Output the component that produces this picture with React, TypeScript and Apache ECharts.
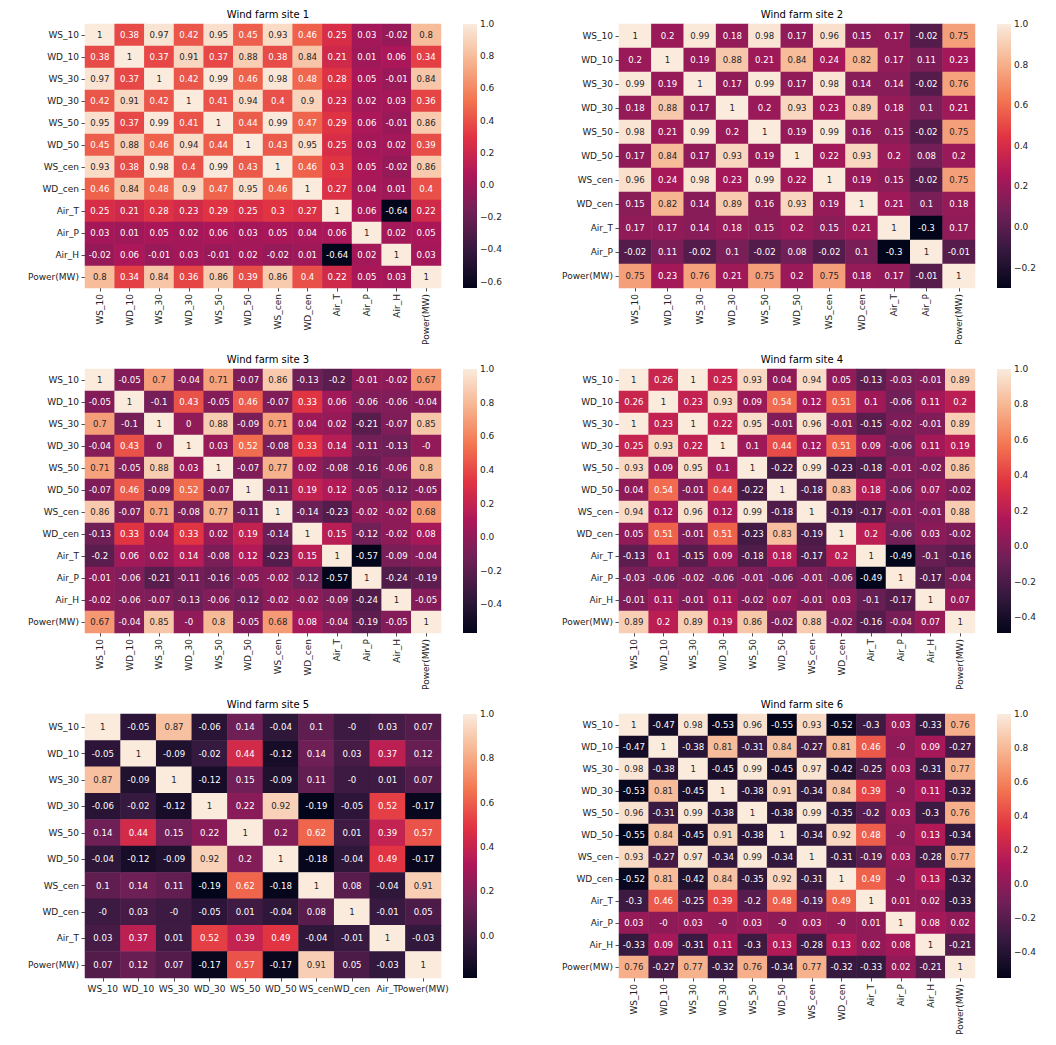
import React, { useEffect, useRef } from 'react';
import * as echarts from 'echarts';

const labels12 = ['WS_10', 'WD_10', 'WS_30', 'WD_30', 'WS_50', 'WD_50', 'WS_cen', 'WD_cen', 'Air_T', 'Air_P', 'Air_H', 'Power(MW)'];
const labels11 = ['WS_10', 'WD_10', 'WS_30', 'WD_30', 'WS_50', 'WD_50', 'WS_cen', 'WD_cen', 'Air_T', 'Air_P', 'Power(MW)'];
const labels10 = ['WS_10', 'WD_10', 'WS_30', 'WD_30', 'WS_50', 'WD_50', 'WS_cen', 'WD_cen', 'Air_T', 'Power(MW)'];

const titles = ['Wind farm site 1', 'Wind farm site 2', 'Wind farm site 3', 'Wind farm site 4', 'Wind farm site 5', 'Wind farm site 6'];

const site1 = [
  [1, 0.38, 0.97, 0.42, 0.95, 0.45, 0.93, 0.46, 0.25, 0.03, -0.02, 0.8],
  [0.38, 1, 0.37, 0.91, 0.37, 0.88, 0.38, 0.84, 0.21, 0.01, 0.06, 0.34],
  [0.97, 0.37, 1, 0.42, 0.99, 0.46, 0.98, 0.48, 0.28, 0.05, -0.01, 0.84],
  [0.42, 0.91, 0.42, 1, 0.41, 0.94, 0.4, 0.9, 0.23, 0.02, 0.03, 0.36],
  [0.95, 0.37, 0.99, 0.41, 1, 0.44, 0.99, 0.47, 0.29, 0.06, -0.01, 0.86],
  [0.45, 0.88, 0.46, 0.94, 0.44, 1, 0.43, 0.95, 0.25, 0.03, 0.02, 0.39],
  [0.93, 0.38, 0.98, 0.4, 0.99, 0.43, 1, 0.46, 0.3, 0.05, -0.02, 0.86],
  [0.46, 0.84, 0.48, 0.9, 0.47, 0.95, 0.46, 1, 0.27, 0.04, 0.01, 0.4],
  [0.25, 0.21, 0.28, 0.23, 0.29, 0.25, 0.3, 0.27, 1, 0.06, -0.64, 0.22],
  [0.03, 0.01, 0.05, 0.02, 0.06, 0.03, 0.05, 0.04, 0.06, 1, 0.02, 0.05],
  [-0.02, 0.06, -0.01, 0.03, -0.01, 0.02, -0.02, 0.01, -0.64, 0.02, 1, 0.03],
  [0.8, 0.34, 0.84, 0.36, 0.86, 0.39, 0.86, 0.4, 0.22, 0.05, 0.03, 1],
];

const site2 = [
  [1, 0.2, 0.99, 0.18, 0.98, 0.17, 0.96, 0.15, 0.17, -0.02, 0.75],
  [0.2, 1, 0.19, 0.88, 0.21, 0.84, 0.24, 0.82, 0.17, 0.11, 0.23],
  [0.99, 0.19, 1, 0.17, 0.99, 0.17, 0.98, 0.14, 0.14, -0.02, 0.76],
  [0.18, 0.88, 0.17, 1, 0.2, 0.93, 0.23, 0.89, 0.18, 0.1, 0.21],
  [0.98, 0.21, 0.99, 0.2, 1, 0.19, 0.99, 0.16, 0.15, -0.02, 0.75],
  [0.17, 0.84, 0.17, 0.93, 0.19, 1, 0.22, 0.93, 0.2, 0.08, 0.2],
  [0.96, 0.24, 0.98, 0.23, 0.99, 0.22, 1, 0.19, 0.15, -0.02, 0.75],
  [0.15, 0.82, 0.14, 0.89, 0.16, 0.93, 0.19, 1, 0.21, 0.1, 0.18],
  [0.17, 0.17, 0.14, 0.18, 0.15, 0.2, 0.15, 0.21, 1, -0.3, 0.17],
  [-0.02, 0.11, -0.02, 0.1, -0.02, 0.08, -0.02, 0.1, -0.3, 1, -0.01],
  [0.75, 0.23, 0.76, 0.21, 0.75, 0.2, 0.75, 0.18, 0.17, -0.01, 1],
];

const site3 = [
  [1, -0.05, 0.7, -0.04, 0.71, -0.07, 0.86, -0.13, -0.2, -0.01, -0.02, 0.67],
  [-0.05, 1, -0.1, 0.43, -0.05, 0.46, -0.07, 0.33, 0.06, -0.06, -0.06, -0.04],
  [0.7, -0.1, 1, 0, 0.88, -0.09, 0.71, 0.04, 0.02, -0.21, -0.07, 0.85],
  [-0.04, 0.43, 0, 1, 0.03, 0.52, -0.08, 0.33, 0.14, -0.11, -0.13, -0],
  [0.71, -0.05, 0.88, 0.03, 1, -0.07, 0.77, 0.02, -0.08, -0.16, -0.06, 0.8],
  [-0.07, 0.46, -0.09, 0.52, -0.07, 1, -0.11, 0.19, 0.12, -0.05, -0.12, -0.05],
  [0.86, -0.07, 0.71, -0.08, 0.77, -0.11, 1, -0.14, -0.23, -0.02, -0.02, 0.68],
  [-0.13, 0.33, 0.04, 0.33, 0.02, 0.19, -0.14, 1, 0.15, -0.12, -0.02, 0.08],
  [-0.2, 0.06, 0.02, 0.14, -0.08, 0.12, -0.23, 0.15, 1, -0.57, -0.09, -0.04],
  [-0.01, -0.06, -0.21, -0.11, -0.16, -0.05, -0.02, -0.12, -0.57, 1, -0.24, -0.19],
  [-0.02, -0.06, -0.07, -0.13, -0.06, -0.12, -0.02, -0.02, -0.09, -0.24, 1, -0.05],
  [0.67, -0.04, 0.85, -0, 0.8, -0.05, 0.68, 0.08, -0.04, -0.19, -0.05, 1],
];

const site4 = [
  [1, 0.26, 1, 0.25, 0.93, 0.04, 0.94, 0.05, -0.13, -0.03, -0.01, 0.89],
  [0.26, 1, 0.23, 0.93, 0.09, 0.54, 0.12, 0.51, 0.1, -0.06, 0.11, 0.2],
  [1, 0.23, 1, 0.22, 0.95, -0.01, 0.96, -0.01, -0.15, -0.02, -0.01, 0.89],
  [0.25, 0.93, 0.22, 1, 0.1, 0.44, 0.12, 0.51, 0.09, -0.06, 0.11, 0.19],
  [0.93, 0.09, 0.95, 0.1, 1, -0.22, 0.99, -0.23, -0.18, -0.01, -0.02, 0.86],
  [0.04, 0.54, -0.01, 0.44, -0.22, 1, -0.18, 0.83, 0.18, -0.06, 0.07, -0.02],
  [0.94, 0.12, 0.96, 0.12, 0.99, -0.18, 1, -0.19, -0.17, -0.01, -0.01, 0.88],
  [0.05, 0.51, -0.01, 0.51, -0.23, 0.83, -0.19, 1, 0.2, -0.06, 0.03, -0.02],
  [-0.13, 0.1, -0.15, 0.09, -0.18, 0.18, -0.17, 0.2, 1, -0.49, -0.1, -0.16],
  [-0.03, -0.06, -0.02, -0.06, -0.01, -0.06, -0.01, -0.06, -0.49, 1, -0.17, -0.04],
  [-0.01, 0.11, -0.01, 0.11, -0.02, 0.07, -0.01, 0.03, -0.1, -0.17, 1, 0.07],
  [0.89, 0.2, 0.89, 0.19, 0.86, -0.02, 0.88, -0.02, -0.16, -0.04, 0.07, 1],
];

const site5 = [
  [1, -0.05, 0.87, -0.06, 0.14, -0.04, 0.1, -0, 0.03, 0.07],
  [-0.05, 1, -0.09, -0.02, 0.44, -0.12, 0.14, 0.03, 0.37, 0.12],
  [0.87, -0.09, 1, -0.12, 0.15, -0.09, 0.11, -0, 0.01, 0.07],
  [-0.06, -0.02, -0.12, 1, 0.22, 0.92, -0.19, -0.05, 0.52, -0.17],
  [0.14, 0.44, 0.15, 0.22, 1, 0.2, 0.62, 0.01, 0.39, 0.57],
  [-0.04, -0.12, -0.09, 0.92, 0.2, 1, -0.18, -0.04, 0.49, -0.17],
  [0.1, 0.14, 0.11, -0.19, 0.62, -0.18, 1, 0.08, -0.04, 0.91],
  [-0, 0.03, -0, -0.05, 0.01, -0.04, 0.08, 1, -0.01, 0.05],
  [0.03, 0.37, 0.01, 0.52, 0.39, 0.49, -0.04, -0.01, 1, -0.03],
  [0.07, 0.12, 0.07, -0.17, 0.57, -0.17, 0.91, 0.05, -0.03, 1],
];

const site6 = [
  [1, -0.47, 0.98, -0.53, 0.96, -0.55, 0.93, -0.52, -0.3, 0.03, -0.33, 0.76],
  [-0.47, 1, -0.38, 0.81, -0.31, 0.84, -0.27, 0.81, 0.46, -0, 0.09, -0.27],
  [0.98, -0.38, 1, -0.45, 0.99, -0.45, 0.97, -0.42, -0.25, 0.03, -0.31, 0.77],
  [-0.53, 0.81, -0.45, 1, -0.38, 0.91, -0.34, 0.84, 0.39, -0, 0.11, -0.32],
  [0.96, -0.31, 0.99, -0.38, 1, -0.38, 0.99, -0.35, -0.2, 0.03, -0.3, 0.76],
  [-0.55, 0.84, -0.45, 0.91, -0.38, 1, -0.34, 0.92, 0.48, -0, 0.13, -0.34],
  [0.93, -0.27, 0.97, -0.34, 0.99, -0.34, 1, -0.31, -0.19, 0.03, -0.28, 0.77],
  [-0.52, 0.81, -0.42, 0.84, -0.35, 0.92, -0.31, 1, 0.49, -0, 0.13, -0.32],
  [-0.3, 0.46, -0.25, 0.39, -0.2, 0.48, -0.19, 0.49, 1, 0.01, 0.02, -0.33],
  [0.03, -0, 0.03, -0, 0.03, -0, 0.03, -0, 0.01, 1, 0.08, 0.02],
  [-0.33, 0.09, -0.31, 0.11, -0.3, 0.13, -0.28, 0.13, 0.02, 0.08, 1, -0.21],
  [0.76, -0.27, 0.77, -0.32, 0.76, -0.34, 0.77, -0.32, -0.33, 0.02, -0.21, 1],
];

const cbTicks1 = [-0.6, -0.4, -0.2, 0, 0.2, 0.4, 0.6, 0.8, 1.0];
const cbTicks2 = [-0.2, 0, 0.2, 0.4, 0.6, 0.8, 1.0];
const cbTicks3 = [-0.4, -0.2, 0, 0.2, 0.4, 0.6, 0.8, 1.0];
const cbTicks4 = [-0.4, -0.2, 0, 0.2, 0.4, 0.6, 0.8, 1.0];
const cbTicks5 = [0, 0.2, 0.4, 0.6, 0.8, 1.0];
const cbTicks6 = [-0.4, -0.2, 0, 0.2, 0.4, 0.6, 0.8, 1.0];

const rocketColors = ['#03051a', '#35193e', '#701f57', '#ad1759', '#e13342', '#f37651', '#f6b48f', '#faebdd'];

const panelsData = [
  { labels: labels12, m: site1, ticks: cbTicks1 },
  { labels: labels11, m: site2, ticks: cbTicks2 },
  { labels: labels12, m: site3, ticks: cbTicks3 },
  { labels: labels12, m: site4, ticks: cbTicks4 },
  { labels: labels10, m: site5, ticks: cbTicks5 },
  { labels: labels12, m: site6, ticks: cbTicks6 },
];

const layout = [
  { left: 85, top: 24 },
  { left: 619, top: 24 },
  { left: 85, top: 369 },
  { left: 619, top: 369 },
  { left: 85, top: 714 },
  { left: 619, top: 714 },
];
const GW = 356;
const GH = 264;
const FONT = 'DejaVu Sans';
const TXT = '#222222';

function hexToRgb(h: string) {
  const n = parseInt(h.slice(1), 16);
  return [(n >> 16) & 255, (n >> 8) & 255, n & 255];
}
function rocketAt(t: number) {
  const n = rocketColors.length - 1;
  const tt = Math.max(0, Math.min(1, t));
  const p = tt * n;
  const i = Math.min(Math.floor(p), n - 1);
  const f = p - i;
  const a = hexToRgb(rocketColors[i]);
  const b = hexToRgb(rocketColors[i + 1]);
  return [0, 1, 2].map((k) => a[k] + (b[k] - a[k]) * f);
}
function luminance(rgb: number[]) {
  const lin = (c: number) => {
    const x = c / 255;
    return x <= 0.03928 ? x / 12.92 : Math.pow((x + 0.055) / 1.055, 2.4);
  };
  return 0.2126 * lin(rgb[0]) + 0.7152 * lin(rgb[1]) + 0.0722 * lin(rgb[2]);
}
function fmtAnn(v: number) {
  return Object.is(v, -0) ? '-0' : String(v);
}
function fmtTick(v: number) {
  if (Math.abs(v) < 1e-9) return '0.0';
  const s = v.toFixed(1);
  return s.startsWith('-') ? '\u2212' + s.slice(1) : s;
}

function buildOption() {
  const grids: any[] = [];
  const xAxes: any[] = [];
  const yAxes: any[] = [];
  const visualMaps: any[] = [];
  const series: any[] = [];
  const titleArr: any[] = [];
  const tickStyle = { color: TXT, width: 0.8 };

  panelsData.forEach((pd, i) => {
    const L = layout[i];
    grids.push({ left: L.left, top: L.top, width: GW, height: GH });
    titleArr.push({
      text: titles[i],
      left: L.left + GW / 2,
      top: L.top - 20,
      textAlign: 'center',
      textStyle: { fontSize: 10, fontWeight: 'normal', color: '#000', fontFamily: FONT },
    });
    xAxes.push({
      type: 'category',
      gridIndex: i,
      data: pd.labels,
      position: 'bottom',
      axisLine: { show: false },
      axisTick: { show: true, alignWithLabel: true, length: 3.5, lineStyle: tickStyle },
      axisLabel: { rotate: i === 4 ? 0 : 90, interval: 0, fontSize: 9, color: TXT, fontFamily: FONT, margin: 6 },
      splitLine: { show: false },
      splitArea: { show: false },
    });
    yAxes.push({
      type: 'category',
      gridIndex: i,
      data: pd.labels,
      inverse: true,
      axisLine: { show: false },
      axisTick: { show: true, alignWithLabel: true, length: 3.5, lineStyle: tickStyle },
      axisLabel: { interval: 0, fontSize: 9, color: TXT, fontFamily: FONT, margin: 6 },
      splitLine: { show: false },
      splitArea: { show: false },
    });
    const flat = pd.m.flat();
    const dmin = Math.min(...flat);
    const dmax = Math.max(...flat);
    visualMaps.push({
      type: 'continuous',
      show: false,
      seriesIndex: i,
      dimension: 2,
      min: dmin,
      max: dmax,
      inRange: { color: rocketColors },
    });
    const items: any[] = [];
    pd.m.forEach((row, r) => {
      row.forEach((v, c) => {
        const rgb = rocketAt((v - dmin) / (dmax - dmin));
        const col = luminance(rgb) > 0.408 ? '#262626' : '#ffffff';
        items.push({ value: [c, r, v], txt: fmtAnn(v), label: { color: col } });
      });
    });
    series.push({
      type: 'heatmap',
      xAxisIndex: i,
      yAxisIndex: i,
      data: items,
      label: { show: true, fontSize: 8.6, fontFamily: FONT, formatter: (p: any) => p.data.txt },
      itemStyle: { borderWidth: 0 },
      emphasis: { disabled: true },
      silent: true,
    });
  });

  panelsData.forEach((pd, i) => {
    const L = layout[i];
    const gi = 6 + i;
    const flat = pd.m.flat();
    const dmin = Math.min(...flat);
    const dmax = Math.max(...flat);
    grids.push({ left: L.left + 378, top: L.top, width: 14, height: GH });
    xAxes.push({ type: 'value', gridIndex: gi, min: 0, max: 1, show: false });
    yAxes.push({
      type: 'value',
      gridIndex: gi,
      min: dmin,
      max: dmax,
      position: 'right',
      axisLine: { show: false },
      splitLine: { show: false },
      axisTick: { show: true, length: 3.5, lineStyle: tickStyle, customValues: pd.ticks },
      axisLabel: { customValues: pd.ticks, formatter: (v: number) => fmtTick(v), fontSize: 9, color: TXT, fontFamily: FONT, margin: 3 },
    });
    series.push({
      type: 'custom',
      xAxisIndex: gi,
      yAxisIndex: gi,
      silent: true,
      data: [[0, dmin, 1, dmax]],
      renderItem: (params: any, api: any) => {
        const a = api.coord([api.value(0), api.value(3)]);
        const b = api.coord([api.value(2), api.value(1)]);
        return {
          type: 'rect',
          shape: { x: a[0], y: a[1], width: b[0] - a[0], height: b[1] - a[1] },
          style: {
            fill: new echarts.graphic.LinearGradient(
              0, 1, 0, 0,
              rocketColors.map((c, k) => ({ offset: k / (rocketColors.length - 1), color: c }))
            ),
          },
        };
      },
    });
  });

  return {
    animation: false,
    backgroundColor: '#ffffff',
    textStyle: { fontFamily: FONT },
    title: titleArr,
    grid: grids,
    xAxis: xAxes,
    yAxis: yAxes,
    visualMap: visualMaps,
    series,
  };
}

export default function App() {
  const ref = useRef<HTMLDivElement>(null);
  useEffect(() => {
    if (!ref.current) return;
    const chart = echarts.init(ref.current, null, { renderer: 'svg' });
    chart.setOption(buildOption() as any);
    return () => chart.dispose();
  }, []);
  return (
    <div
      ref={ref}
      style={{ position: 'fixed', left: 0, top: 0, width: 1056, height: 1045, background: '#fff' }}
    />
  );
}
